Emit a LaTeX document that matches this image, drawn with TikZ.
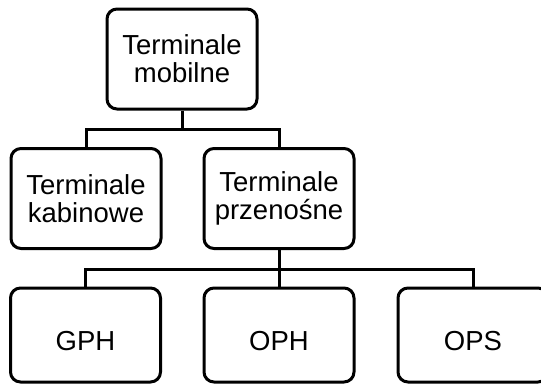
\documentclass[tikz,border=0pt]{standalone}
\usepackage{fontspec}
\setmainfont{Liberation Sans}
\usepackage{tikz}
\usetikzlibrary{calc,positioning}
\tikzstyle{boite}=[draw,rounded corners=10pt,line width=3pt,minimum width=150pt,minimum height=100pt,align=center,inner sep=2pt,font=\fontsize{27.5}{28}\selectfont]
\tikzstyle{boite-bas}=[boite,minimum height=94pt,text height=31.7pt,text depth=0pt]
\tikzstyle{lien}=[line width=3pt]

\begin{document}
\begin{tikzpicture}[x=1pt,y=1pt]
\useasboundingbox (0,0) rectangle (541,-383);
\node[boite] (mob) at (182,-59) {Terminale\\mobilne};
\node[boite] (kab) at (86,-198.5) {Terminale\\kabinowe};
\node[boite] (prz) at (279,-198.5) {Terminale\\przenośne};
\node[boite-bas] (gph) at (85.5,-335) {GPH};
\node[boite-bas] (oph) at (279,-335) {OPH};
\node[boite-bas] (ops) at (473,-335) {OPS};

\draw[lien] (mob.south) -- ++(0,-19) coordinate (b1);
\draw[lien] (b1) -| (kab.north);
\draw[lien] (b1) -| (prz.north);
\draw[lien] (prz.south) -- ++(0,-19) coordinate (b2);
\draw[lien] (b2) -| (gph.north);
\draw[lien] (b2) -| (oph.north);
\draw[lien] (b2) -| (ops.north);
\end{tikzpicture}
\end{document}
